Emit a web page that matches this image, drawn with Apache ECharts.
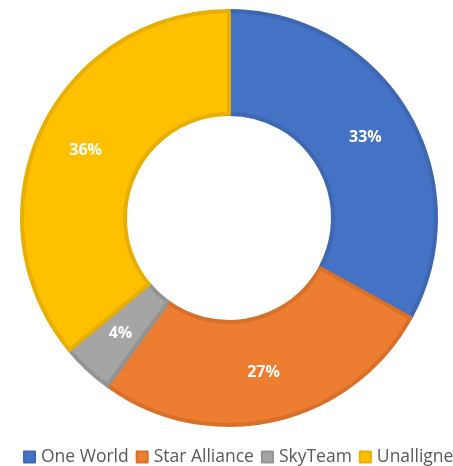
<!DOCTYPE html>
<html>
<head>
<meta charset="utf-8">
<script src="https://cdn.jsdelivr.net/npm/echarts@6/dist/echarts.min.js"></script>
<style>
html,body{margin:0;padding:0;background:#fff;}
#c{width:453px;height:466px;}
</style>
</head>
<body>
<div id="c"></div>
<script>
const categories = ['One World', 'Star Alliance', 'SkyTeam', 'Unalligned'];
const values = [33, 27, 4, 36];
const colors = ['#4472C4', '#ED7D31', '#A5A5A5', '#FFC000'];
const borderColors = ['#3E67B2', '#D8702A', '#939393', '#E8AE00'];

const chart = echarts.init(document.getElementById('c'), null, {renderer: 'canvas'});
chart.setOption({
  animation: false,
  color: colors,
  legend: {
    data: categories,
    orient: 'horizontal',
    left: 18,
    top: 443,
    width: 800,
    itemWidth: 11,
    itemHeight: 11,
    itemGap: 7,
    icon: 'rect',
    textStyle: {fontFamily: 'Open Sans', fontSize: 17.5, color: '#595959', padding: [0, 0, 0, 1]}
  },
  series: [{
    type: 'pie',
    center: [229, 218],
    radius: [104, 207],
    startAngle: 90,
    clockwise: true,
    label: {
      show: true,
      position: 'inside',
      formatter: '{d}%',
      color: '#fff',
      fontWeight: 'bold',
      fontSize: 16,
      fontFamily: 'Open Sans'
    },
    labelLine: {show: false},
    data: categories.map((n, i) => ({
      name: n,
      value: values[i],
      itemStyle: {color: colors[i], borderColor: borderColors[i], borderWidth: 4}
    }))
  }]
});
</script>
</body>
</html>
